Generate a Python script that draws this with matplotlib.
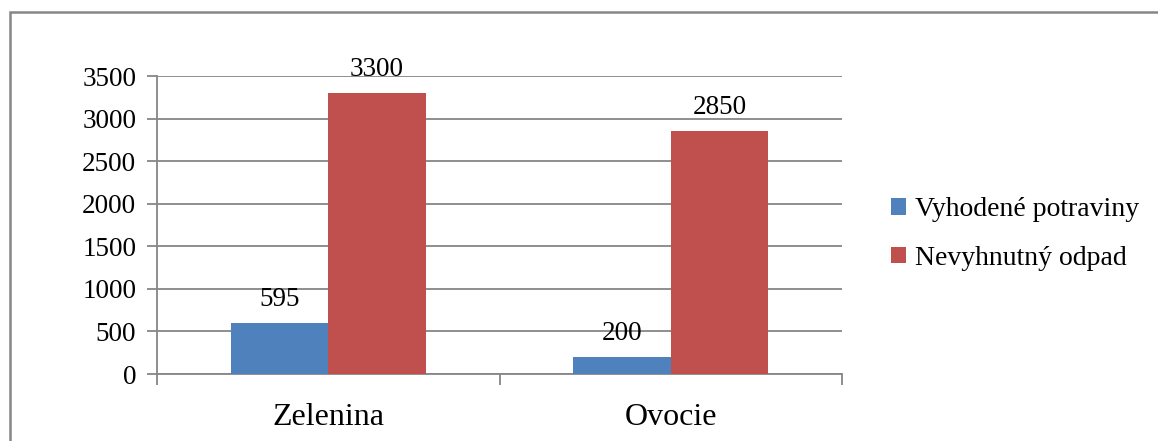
import matplotlib
matplotlib.use("Agg")
import matplotlib.pyplot as plt
from matplotlib.lines import Line2D
import numpy as np

categories = ["Zelenina", "Ovocie"]
series_names = ["Vyhodené potraviny", "Nevyhnutný odpad"]
vyhodene = [595, 200]
nevyhnutny = [3300, 2850]
yticks = [0, 500, 1000, 1500, 2000, 2500, 3000, 3500]

plt.rcParams["font.family"] = ["Liberation Serif", "DejaVu Serif"]

W, H = 1158, 441
fig = plt.figure(figsize=(W / 100, H / 100), dpi=100)
ax = fig.add_axes([157 / W, 1 - 374 / H, (842 - 157) / W, (374 - 76) / H])

grey = "#868686"
blue = "#4F81BD"
red = "#C0504D"

x = np.arange(len(categories))
bw = 0.285
b1 = ax.bar(x - bw / 2, vyhodene, bw, color=blue, label=series_names[0], zorder=3)
b2 = ax.bar(x + bw / 2, nevyhnutny, bw, color=red, label=series_names[1], zorder=3)

for bars, vals in ((b1, vyhodene), (b2, nevyhnutny)):
    for rect, v in zip(bars, vals):
        ax.annotate(f"{v}", (rect.get_x() + rect.get_width() / 2, v),
                    xytext=(0, 8), textcoords="offset points",
                    ha="center", va="bottom", fontsize=19.5, color="black")

ax.set_xlim(-0.5, 1.5)
ax.set_ylim(0, 3500)
ax.set_yticks(yticks)
ax.set_yticklabels([str(t) for t in yticks], fontsize=19.5)
ax.yaxis.grid(True, color=grey, linewidth=1.3, zorder=0)

ax.set_xticks(x)
ax.set_xticklabels(categories, fontsize=23)
ax.set_xticks([-0.5, 0.5, 1.5], minor=True)
ax.tick_params(axis="x", which="major", length=0, pad=21)
ax.tick_params(axis="x", which="minor", length=8, width=1.3, color=grey, direction="out")
ax.tick_params(axis="y", length=7, width=1.3, color=grey, direction="out", pad=8)

for side in ("top", "right"):
    ax.spines[side].set_visible(False)
for side in ("left", "bottom"):
    ax.spines[side].set_color(grey)
    ax.spines[side].set_linewidth(1.3)

handles = [b1, b2]
ax.legend(handles, series_names, loc="center left",
          bbox_to_anchor=((880 - 157) / (842 - 157), 0.47),
          frameon=False, fontsize=20, handlelength=0.55, handleheight=0.55,
          handletextpad=0.3, labelspacing=0.85, borderaxespad=0)

# chart-area frame: left and top edges
fx = 10 / W
fy = 1 - 12 / H
fig.add_artist(Line2D([fx, fx, 1.0], [0.0, fy, fy], transform=fig.transFigure,
                      color=grey, linewidth=1.8, solid_capstyle="butt",
                      solid_joinstyle="miter"))

fig.savefig("out.png", dpi=100)
